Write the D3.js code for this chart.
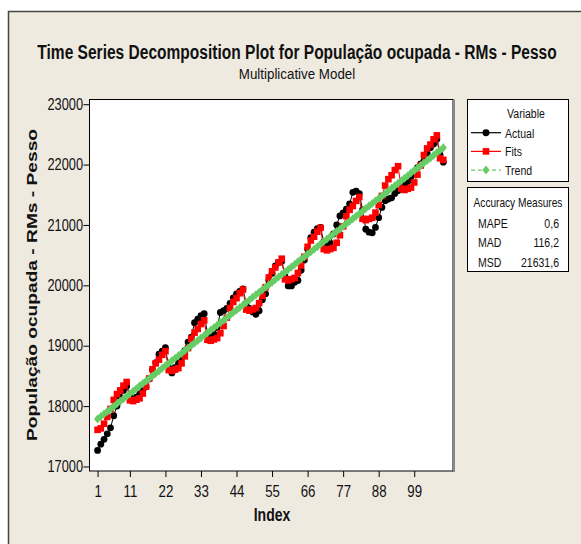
<!DOCTYPE html>
<html>
<head>
<meta charset="utf-8">
<script src="https://cdn.jsdelivr.net/npm/d3@7"></script>
<style>
  body { margin: 0; background: #fff; }
</style>
</head>
<body>
<div id="chart"></div>
<script>
// values, index 1..108
const actual = [
  17265, 17370, 17450, 17540, 17640, 17840, 18000, 18150, 18260, 18330, 18160, 18120,
  18150, 18200, 18260, 18320, 18450, 18600, 18720, 18860, 18910, 18970, 18640, 18550,
  18640, 18720, 18800, 18920, 19060, 19140, 19380, 19440, 19500, 19530, 19200, 19150,
  19190, 19300, 19550, 19580, 19620, 19700, 19790, 19860, 19900, 19940, 19700, 19620,
  19560, 19520, 19580, 19760, 19860, 20080, 20200, 20320, 20380, 20400, 20150, 19990,
  19990, 20050, 20080, 20250, 20420, 20600, 20790, 20880, 20940, 20960, 20720, 20690,
  20700, 20850, 21000, 21150, 21200, 21260, 21350, 21540, 21560, 21520, 21250, 20930,
  20880, 20870, 20960, 21120, 21290, 21400, 21430, 21450, 21520, 21570, 21610, 21670,
  21720, 21800, 21870, 21950, 22010, 22060, 22190, 22280, 22340, 22420, 22160, 22040
];
const fits = [
  17607, 17631, 17708, 17821, 17953, 18103, 18199, 18260, 18338, 18399, 18096, 18083,
  18106, 18129, 18208, 18323, 18457, 18610, 18708, 18769, 18849, 18910, 18597, 18582,
  18605, 18628, 18707, 18824, 18961, 19117, 19216, 19278, 19359, 19420, 19098, 19082,
  19104, 19126, 19207, 19326, 19465, 19624, 19725, 19787, 19869, 19931, 19599, 19581,
  19603, 19625, 19706, 19827, 19969, 20131, 20233, 20296, 20379, 20441, 20100, 20081,
  20102, 20123, 20205, 20329, 20473, 20638, 20742, 20805, 20889, 20952, 20601, 20580,
  20601, 20622, 20705, 20830, 20977, 21145, 21251, 21314, 21399, 21462, 21102, 21080,
  21100, 21120, 21204, 21332, 21481, 21652, 21759, 21823, 21909, 21973, 21603, 21579,
  21599, 21619, 21704, 21833, 21985, 22159, 22268, 22332, 22419, 22484, 22104, 22078
];
const trend = [
  17785, 17827, 17869, 17911, 17953, 17995, 18037, 18079, 18121, 18163, 18205, 18247,
  18289, 18331, 18373, 18415, 18457, 18499, 18541, 18583, 18625, 18667, 18709, 18751,
  18793, 18835, 18877, 18919, 18961, 19003, 19045, 19087, 19129, 19171, 19213, 19255,
  19297, 19339, 19381, 19423, 19465, 19507, 19549, 19591, 19633, 19675, 19717, 19759,
  19801, 19843, 19885, 19927, 19969, 20011, 20053, 20095, 20137, 20179, 20221, 20263,
  20305, 20347, 20389, 20431, 20473, 20515, 20557, 20599, 20641, 20683, 20725, 20767,
  20809, 20851, 20893, 20935, 20977, 21019, 21061, 21103, 21145, 21187, 21229, 21271,
  21313, 21355, 21397, 21439, 21481, 21523, 21565, 21607, 21649, 21691, 21733, 21775,
  21817, 21859, 21901, 21943, 21985, 22027, 22069, 22111, 22153, 22195, 22237, 22279
];
const xTicks = [1, 11, 22, 33, 44, 55, 66, 77, 88, 99];
const yTicks = [17000, 18000, 19000, 20000, 21000, 22000, 23000];
const legendNames = ["Actual", "Fits", "Trend"];
const accuracyNames = ["MAPE", "MAD", "MSD"];
const accuracyValues = ["0,6", "116,2", "21631,6"];

const w = 581, h = 544;
const plot = { left: 89.5, right: 453, top: 99.5, bottom: 471 };
const font = "'Liberation Sans', Arial, sans-serif";
const green = "#66cc66";

// squeeze text horizontally around its anchor x, to mimic the narrow Minitab font
function squeeze(sel, ratio) {
  sel.each(function () {
    const x0 = +(this.getAttribute("x") || 0);
    d3.select(this).attr("transform", `translate(${x0},0) scale(${ratio},1) translate(${-x0},0)`);
  });
}

const svg = d3.select("#chart").append("svg").attr("width", w).attr("height", h)
  .style("font-family", font);

svg.append("rect").attr("width", w).attr("height", h).attr("fill", "#fff");
svg.append("rect").attr("x", 8).attr("y", 11).attr("width", w - 8).attr("height", h - 11)
  .attr("fill", "#eeeae0");
svg.append("path").attr("d", "M8.5,544V11.5H581").attr("fill", "none")
  .attr("stroke", "#444").attr("stroke-width", 1.5);

const xScale = d3.scaleLinear().domain([-1.5, 111]).range([plot.left, plot.right]);
const yScale = d3.scaleLinear().domain([16925, 23078]).range([plot.bottom, plot.top]);

svg.append("rect")
  .attr("x", plot.left).attr("y", plot.top)
  .attr("width", plot.right - plot.left).attr("height", plot.bottom - plot.top)
  .attr("fill", "#fff").attr("stroke", "#000");
svg.append("line")
  .attr("x1", plot.right + 1).attr("x2", plot.right + 1)
  .attr("y1", plot.top).attr("y2", plot.bottom + 1)
  .attr("stroke", "#888").attr("stroke-width", 2);

// axes
const xAxis = svg.append("g")
  .attr("transform", `translate(0, ${plot.bottom})`)
  .call(d3.axisBottom(xScale).tickValues(xTicks).tickSize(6).tickPadding(8));
const yAxis = svg.append("g")
  .attr("transform", `translate(${plot.left}, 0)`)
  .call(d3.axisLeft(yScale).tickValues(yTicks).tickSize(6).tickPadding(0.5).tickFormat(d3.format("d")));

[xAxis, yAxis].forEach((g) => {
  g.select(".domain").remove();
  g.attr("font-family", font).attr("font-size", 17);
  g.selectAll(".tick line").attr("stroke", "#000");
  g.selectAll(".tick text").attr("fill", "#111");
});
squeeze(xAxis.selectAll(".tick text"), 0.78);
yAxis.selectAll(".tick text").attr("font-size", 16);
squeeze(yAxis.selectAll(".tick text"), 0.8);

// series
const line = (vals) => d3.line()
  .x((d, i) => xScale(i + 1))
  .y((d) => yScale(d))(vals);

const diamond = "M0,-4.5L3.6,0L0,4.5L-3.6,0Z";

svg.append("path").attr("d", line(actual)).attr("fill", "none").attr("stroke", "#000").attr("stroke-width", 1);
svg.append("g").selectAll("circle")
  .data(actual)
  .enter()
  .append("circle")
  .attr("cx", (d, i) => xScale(i + 1))
  .attr("cy", (d) => yScale(d))
  .attr("r", 3.4)
  .attr("fill", "#000");

svg.append("path").attr("d", line(fits)).attr("fill", "none").attr("stroke", "#ff0000").attr("stroke-width", 1);
svg.append("g").selectAll("rect")
  .data(fits)
  .enter()
  .append("rect")
  .attr("x", (d, i) => xScale(i + 1) - 3.3)
  .attr("y", (d) => yScale(d) - 3.3)
  .attr("width", 6.6)
  .attr("height", 6.6)
  .attr("fill", "#ff0000");

svg.append("path").attr("d", line(trend)).attr("fill", "none").attr("stroke", green)
  .attr("stroke-width", 1).attr("stroke-dasharray", "4,3");
svg.append("g").selectAll("path")
  .data(trend)
  .enter()
  .append("path")
  .attr("d", diamond)
  .attr("transform", (d, i) => `translate(${xScale(i + 1)}, ${yScale(d)})`)
  .attr("fill", green);

// titles
squeeze(svg.append("text").attr("x", 297).attr("y", 59).attr("text-anchor", "middle")
  .attr("font-size", 21).attr("font-weight", "bold").attr("fill", "#111")
  .text("Time Series Decomposition Plot for População ocupada - RMs - Pesso"), 0.74);

squeeze(svg.append("text").attr("x", 297).attr("y", 79).attr("text-anchor", "middle")
  .attr("font-size", 15).attr("fill", "#111")
  .text("Multiplicative Model"), 0.89);

svg.append("text").attr("transform", "translate(37, 285) rotate(-90)")
  .attr("text-anchor", "middle").attr("font-size", 15).attr("font-weight", "bold").attr("fill", "#111")
  .text("População ocupada - RMs - Pesso")
  .attr("textLength", 312).attr("lengthAdjust", "spacingAndGlyphs");

squeeze(svg.append("text").attr("x", 272).attr("y", 521).attr("text-anchor", "middle")
  .attr("font-size", 18).attr("font-weight", "bold").attr("fill", "#111")
  .text("Index"), 0.78);

// legend
const legend = svg.append("g").attr("font-size", 13.5).attr("fill", "#111");
legend.append("rect").attr("x", 467.5).attr("y", 99.5).attr("width", 101).attr("height", 82)
  .attr("fill", "#fff").attr("stroke", "#000");
squeeze(legend.append("text").attr("x", 526).attr("y", 118).attr("text-anchor", "middle").text("Variable"), 0.78);

const rows = legend.selectAll("g.row")
  .data(legendNames)
  .enter()
  .append("g")
  .attr("class", "row")
  .attr("transform", (d, i) => `translate(0, ${132.7 + i * 18.7})`);
rows.append("line").attr("x1", 471).attr("x2", 501).attr("y1", 0).attr("y2", 0)
  .attr("stroke", (d, i) => ["#000", "#ff0000", green][i])
  .attr("stroke-width", 1.2)
  .attr("stroke-dasharray", (d, i) => i === 2 ? "4,3" : null);
rows.append("path")
  .attr("d", (d, i) => [d3.symbol(d3.symbolCircle, 38)(), "M-3.3,-3.3h6.6v6.6h-6.6Z", diamond][i])
  .attr("transform", "translate(486, 0)")
  .attr("fill", (d, i) => ["#000", "#ff0000", green][i]);
squeeze(rows.append("text").attr("x", 505).attr("y", 4.8).text((d) => d), 0.78);

legend.append("rect").attr("x", 467.5).attr("y", 187.5).attr("width", 101).attr("height", 84)
  .attr("fill", "#fff").attr("stroke", "#000");
squeeze(legend.append("text").attr("x", 518).attr("y", 207).attr("text-anchor", "middle").text("Accuracy Measures"), 0.75);
accuracyNames.forEach((name, i) => {
  squeeze(legend.append("text").attr("x", 478).attr("y", 228 + i * 19.3).text(name), 0.78);
  squeeze(legend.append("text").attr("x", 559).attr("y", 228 + i * 19.3).attr("text-anchor", "end")
    .text(accuracyValues[i]), 0.78);
});
</script>
</body>
</html>
